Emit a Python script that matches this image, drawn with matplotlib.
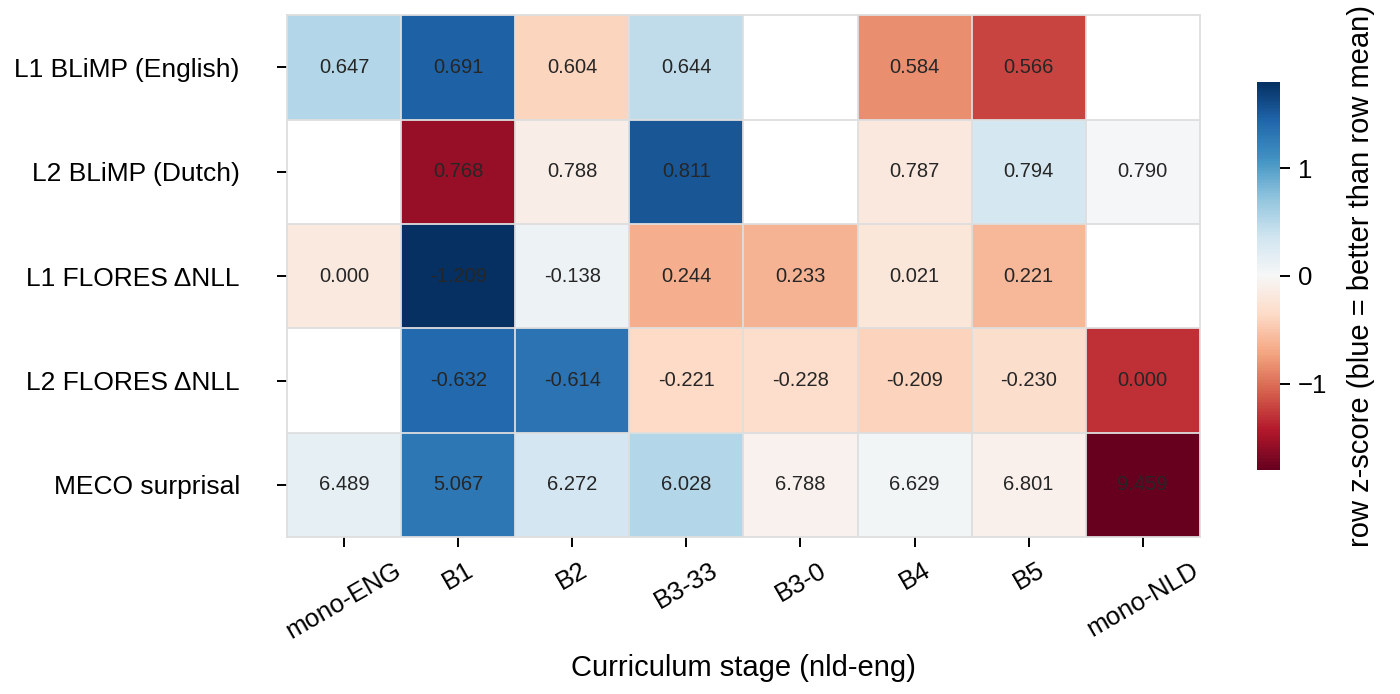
import numpy as np
import matplotlib
matplotlib.use("Agg")
import matplotlib.pyplot as plt

plt.rcParams['font.family'] = ['Liberation Sans', 'DejaVu Sans']

stages = ["mono-ENG", "B1", "B2", "B3-33", "B3-0", "B4", "B5", "mono-NLD"]
metrics = ["L1 BLiMP (English)", "L2 BLiMP (Dutch)", "L1 FLORES \u0394NLL",
           "L2 FLORES \u0394NLL", "MECO surprisal"]

nan = np.nan
l1_blimp = [0.647, 0.691, 0.604, 0.644, nan, 0.584, 0.566, nan]
l2_blimp = [nan, 0.768, 0.788, 0.811, nan, 0.787, 0.794, 0.790]
l1_flores = [0.000, -1.209, -0.138, 0.244, 0.233, 0.021, 0.221, nan]
l2_flores = [nan, -0.632, -0.614, -0.221, -0.228, -0.209, -0.230, 0.000]
meco = [6.489, 5.067, 6.272, 6.028, 6.788, 6.629, 6.801, 9.459]
# +1: higher is better, -1: lower is better
direction = [1, 1, -1, -1, -1]

raw = np.array([l1_blimp, l2_blimp, l1_flores, l2_flores, meco])

# ---------- row z-scores ----------
z = np.full(raw.shape, np.nan)
for i, row in enumerate(raw):
    mu = np.nanmean(row)
    sd = np.nanstd(row, ddof=1)
    z[i] = direction[i] * (row - mu) / sd

fig = plt.figure(figsize=(14, 6.94), dpi=100)
ax = fig.add_axes([0.205, 0.226, 0.652, 0.752])
cax = fig.add_axes([0.898, 0.323, 0.0164, 0.559])

zm = np.ma.masked_invalid(z)
mesh = ax.pcolormesh(np.arange(len(stages) + 1), np.arange(len(metrics) + 1), zm,
                     cmap="RdBu", vmin=-1.8, vmax=1.8)
ax.set_xlim(0, len(stages))
ax.set_ylim(len(metrics), 0)

for i in range(1, len(metrics)):
    ax.axhline(i, color="#dedede", lw=1.3)
for j in range(1, len(stages)):
    ax.axvline(j, color="#dedede", lw=1.3)
for s in ax.spines.values():
    s.set_color("#dedede")
    s.set_linewidth(1.3)

for i in range(raw.shape[0]):
    for j in range(raw.shape[1]):
        if not np.isnan(raw[i, j]):
            ax.text(j + 0.5, i + 0.5, f"{raw[i, j]:.3f}", ha="center", va="center",
                    fontsize=14.5, color="#262626")

ax.set_xticks(np.arange(len(stages)) + 0.5)
ax.set_xticklabels(stages, rotation=30, ha="center", fontsize=18.5)
ax.set_yticks(np.arange(len(metrics)) + 0.5)
ax.set_yticklabels(metrics, fontsize=19)
ax.tick_params(axis="both", length=7, width=1.4)
ax.tick_params(axis="y", pad=27)
ax.tick_params(axis="x", pad=8)
ax.set_xlabel("Curriculum stage (nld-eng)", fontsize=21, labelpad=8)

cb = fig.colorbar(mesh, cax=cax, ticks=[-1, 0, 1])
cb.outline.set_visible(False)
cb.ax.tick_params(labelsize=18.5, length=7, width=1.4, pad=6)
cb.set_label("row z-score (blue = better than row mean)", fontsize=21, labelpad=14)

fig.savefig("out.png", dpi=100)
